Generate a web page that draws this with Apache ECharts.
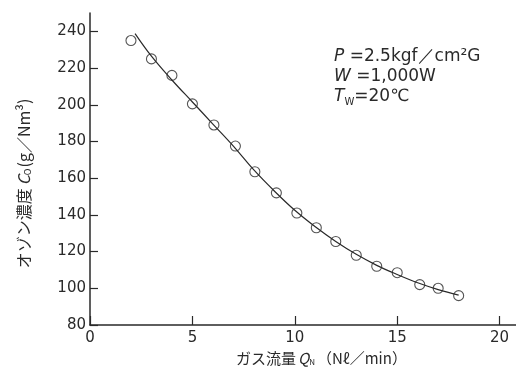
<!DOCTYPE html>
<html>
<head>
<meta charset="utf-8">
<script src="https://cdn.jsdelivr.net/npm/echarts@6/dist/echarts.min.js"></script>
<style>
  html, body { margin: 0; padding: 0; background: #fff; }
  #chart { width: 516px; height: 374px; }
</style>
</head>
<body>
<div id="chart"></div>
<script>
// 測定点（ガス流量, オゾン濃度）
const flowPts = [2, 3, 4, 5, 6.05, 7.1, 8.05, 9.1, 10.1, 11.05, 12, 13, 14, 15, 16.1, 17, 18];
const ozonePts = [235, 225, 216, 200.5, 189, 177.5, 163.5, 152, 141, 133, 125.5, 118, 112, 108.5, 102, 100, 96];
// 近似曲線
const curveX = [2.2, 3, 4, 5, 6, 7, 8, 9, 10, 11, 12, 13, 14, 15, 16, 17, 18];
const curveY = [238.8, 226.5, 213.5, 201.5, 189.5, 177.5, 164.5, 153, 142.5, 133.5, 125.5, 118.5, 112.5, 107.5, 103, 99.3, 96.3];
// 目盛
const xTicks = [0, 5, 10, 15, 20];
const yTicks = [80, 100, 120, 140, 160, 180, 200, 220, 240];

const FONT = "Noto Sans CJK JP";
const NUM = "DejaVu Sans";
const INK = "#2a2a2a";

const chart = echarts.init(document.getElementById("chart"));

const option = {
  animation: false,
  backgroundColor: "#fff",
  textStyle: { fontFamily: FONT, color: INK },
  grid: { left: 90, right: 0, top: 13, bottom: 49 },
  xAxis: {
    type: "value",
    min: 0,
    max: 20.8,
    splitLine: { show: false },
    axisLine: { lineStyle: { color: INK, width: 1.5 } },
    axisTick: { inside: true, length: 9, customValues: xTicks, lineStyle: { color: INK, width: 1.2 } },
    axisLabel: { customValues: xTicks, margin: 6, fontSize: 15, color: INK, fontFamily: NUM },
    name: "{t|ガス流量}{i|Q}{s|N}{t|（Nℓ／min）}",
    nameLocation: "middle",
    nameGap: 25,
    nameTextStyle: {
      padding: [0, 0, 0, 37],
      rich: {
        t: { fontSize: 15, fontFamily: FONT, color: INK },
        i: { fontSize: 15, fontFamily: FONT, fontStyle: "italic", color: INK, padding: [0, 0, 0, 2] },
        s: { fontSize: 8, fontFamily: FONT, color: INK, verticalAlign: "bottom", padding: [4, 2, 0, 0] }
      }
    }
  },
  yAxis: {
    type: "value",
    min: 80,
    max: 250,
    splitLine: { show: false },
    axisLine: { lineStyle: { color: INK, width: 1.5 } },
    axisTick: { inside: true, length: 8, customValues: yTicks, lineStyle: { color: INK, width: 1.2 } },
    axisLabel: { customValues: yTicks, margin: 4, fontSize: 15, color: INK, fontFamily: NUM },
    name: "{t|オゾン濃度}{i|C}{s|O}{t|(g／Nm³)}",
    nameLocation: "middle",
    nameRotate: 90,
    nameGap: 58,
    nameTextStyle: {
      padding: [0, 29, 0, 0],
      rich: {
        t: { fontSize: 16, fontFamily: FONT, color: INK },
        i: { fontSize: 16, fontFamily: FONT, fontStyle: "italic", color: INK, padding: [0, 0, 0, 3] },
        s: { fontSize: 9, fontFamily: FONT, color: INK, verticalAlign: "bottom", padding: [4, 1, 0, 0] }
      }
    }
  },
  series: [
    {
      name: "近似曲線",
      type: "line",
      data: curveX.map((x, i) => [x, curveY[i]]),
      smooth: 0.4,
      showSymbol: false,
      lineStyle: { color: INK, width: 1.2 }
    },
    {
      name: "測定値",
      type: "scatter",
      data: flowPts.map((x, i) => [x, ozonePts[i]]),
      symbol: "circle",
      symbolSize: 10,
      itemStyle: { color: "#fff", borderColor: INK, borderWidth: 1.1 }
    }
  ],
  graphic: [
    {
      type: "text",
      left: 334,
      top: 47,
      style: {
        text: "{i|P} =2.5kgf／cm²G\n{i|W} =1,000W\n{i|T}{s|W}=20℃",
        font: "17px " + NUM,
        fill: INK,
        lineHeight: 20,
        rich: {
          i: { fontSize: 17, fontFamily: NUM, fontStyle: "italic", fill: INK, lineHeight: 20 },
          s: { fontSize: 10, fontFamily: NUM, fill: INK, verticalAlign: "bottom", lineHeight: 20, padding: [6, 0, 0, 0] }
        }
      }
    }
  ]
};

chart.setOption(option);
</script>
</body>
</html>
